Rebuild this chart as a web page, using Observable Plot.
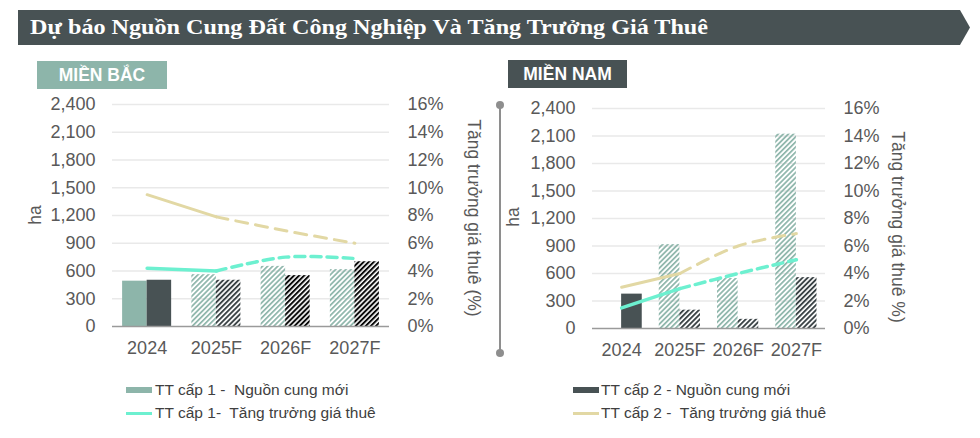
<!DOCTYPE html>
<html><head><meta charset="utf-8">
<script src="https://cdn.jsdelivr.net/npm/d3@7"></script>
<script src="https://cdn.jsdelivr.net/npm/@observablehq/plot@0.6"></script>
<style>
body{margin:0;background:#fff;font-family:"Liberation Sans",Arial,sans-serif;}
#root{position:relative;width:980px;height:438px;overflow:hidden;background:#fff;}
.abs{position:absolute;}
.tag{position:absolute;color:#fff;font-weight:bold;font-size:17.5px;line-height:28px;text-align:center;}
.ytitle{position:absolute;font-size:17.5px;color:#595959;white-space:nowrap;transform-origin:center center;}
.leg{position:absolute;font-size:15.5px;color:#404040;white-space:pre;line-height:18px;}
.sw{position:absolute;}
</style></head><body>
<svg width="0" height="0" style="position:absolute">
  <defs>
    <pattern id="h1" patternUnits="userSpaceOnUse" width="3.6" height="3.6" patternTransform="rotate(45)">
      <rect width="1.7" height="3.6" fill="#8db5aa"/>
    </pattern>
    <pattern id="h2" patternUnits="userSpaceOnUse" width="3.6" height="3.6" patternTransform="rotate(45)">
      <rect width="1.9" height="3.6" fill="#3a4245"/>
    </pattern>
    <pattern id="h2b" patternUnits="userSpaceOnUse" width="3.6" height="3.6" patternTransform="rotate(45)">
      <rect width="2" height="3.6" fill="#0a0a0a"/>
    </pattern>
  </defs>
</svg>
<div id="root">
  <svg class="abs" style="left:0;top:0" width="980" height="50">
    <polygon points="18,10 960,10 970,27.5 960,45 18,45" fill="#485254"/>
    <text x="30" y="34" fill="#fff" font-family="Liberation Serif, Times New Roman, serif" font-weight="bold" font-size="21" textLength="678" lengthAdjust="spacingAndGlyphs">Dự báo Nguồn Cung Đất Công Nghiệp Và Tăng Trưởng Giá Thuê</text>
  </svg>
  <div class="tag" style="left:37px;top:61px;width:130px;height:28px;background:#8db5aa;">MIỀN BẮC</div>
  <div class="tag" style="left:508px;top:60px;width:119px;height:28px;background:#485254;">MIỀN NAM</div>

  <div id="north" class="abs" style="left:20px;top:90px;"></div>
  <div id="south" class="abs" style="left:490px;top:90px;"></div>

  <div class="ytitle" style="left:35px;top:215px;transform:translate(-50%,-50%) rotate(-90deg);">ha</div>
  <div class="ytitle" style="left:473px;top:218px;transform:translate(-50%,-50%) rotate(90deg);">Tăng trưởng giá thuê (%)</div>
  <div class="ytitle" style="left:513px;top:217px;transform:translate(-50%,-50%) rotate(-90deg);">ha</div>
  <div class="ytitle" style="left:897px;top:227px;transform:translate(-50%,-50%) rotate(90deg);">Tăng trưởng giá thuê %)</div>

  <div class="abs" style="left:499px;top:105px;width:2px;height:248px;background:#8e8e8e;"></div>
  <div class="abs" style="left:496px;top:101px;width:8px;height:8px;border-radius:50%;background:#8e8e8e;"></div>
  <div class="abs" style="left:496px;top:349px;width:8px;height:8px;border-radius:50%;background:#8e8e8e;"></div>

  <div class="sw" style="left:126px;top:387px;width:26px;height:6px;background:#8db5aa;"></div>
  <div class="leg" style="left:155px;top:381px;">TT cấp 1 -  Nguồn cung mới</div>
  <div class="sw" style="left:126px;top:412px;width:26px;height:3px;background:#6df0d0;"></div>
  <div class="leg" style="left:155px;top:404px;">TT cấp 1-  Tăng trưởng giá thuê</div>
  <div class="sw" style="left:573px;top:387px;width:26px;height:6px;background:#485254;"></div>
  <div class="leg" style="left:601px;top:381px;">TT cấp 2 - Nguồn cung mới</div>
  <div class="sw" style="left:573px;top:412px;width:26px;height:3px;background:#e2d8a4;"></div>
  <div class="leg" style="left:601px;top:404px;">TT cấp 2 -  Tăng trưởng giá thuê</div>
</div>
<script>
const categories = ["2024", "2025F", "2026F", "2027F"];
const yTicks = [0, 300, 600, 900, 1200, 1500, 1800, 2100, 2400];
const pctTicks = [0, 2, 4, 6, 8, 10, 12, 14, 16];

// Miền Bắc
const northSupply1 = [490, 560, 650, 615];
const northSupply2 = [500, 500, 550, 700];
const northGrowth1 = [4.2, 4.0, 5.0, 4.9];
const northGrowth2 = [9.5, 7.9, 6.9, 6.0];

// Miền Nam
const southSupply1 = [0, 915, 545, 2120];
const southSupply2 = [375, 200, 100, 555];
const southGrowth1 = [1.5, 2.9, 4.0, 5.0];
const southGrowth2 = [3.0, 4.0, 6.0, 6.9];

const C1 = "#8db5aa", C2 = "#485254", TEAL = "#6df0d0", BEIGE = "#e2d8a4";

function panel(s1, s2, g1, g2, o) {
  const k = 2400 / 16;
  const rows = categories.map((c, i) => ({c, i, s1: s1[i], s2: s2[i], g1: g1[i], g2: g2[i], f: c.endsWith("F")}));
  const bw = 0.354;
  return Plot.plot({
    width: 470, height: 270,
    marginLeft: o.ml, marginRight: o.mr, marginTop: o.mt, marginBottom: o.mb,
    style: {fontFamily: "Liberation Sans, Arial, sans-serif", fontSize: "18px", color: "#595959", background: "transparent", overflow: "visible"},
    x: {domain: [-0.5, 3.5], label: null},
    y: {domain: [0, 2400], label: null},
    color: {type: "identity"},
    marks: [
      Plot.ruleY(yTicks.filter(t => t > 0), {stroke: "#e9e9e9", strokeWidth: 1.5}),
      Plot.rectY(rows.filter(d => d.s1 > 0), {x1: d => d.i - bw, x2: d => d.i, y: "s1", fill: d => d.f ? "url(#h1)" : C1}),
      Plot.rectY(rows.filter(d => d.s2 > 0), {x1: d => d.i, x2: d => d.i + bw, y: "s2", fill: d => d.f ? "url(#" + o.pat2[d.i] + ")" : C2}),
      Plot.ruleY([0], {stroke: "#9a9a9a", strokeWidth: 1.5}),
      Plot.line(rows.slice(0, 2), {x: "i", y: d => d.g2 * k, stroke: BEIGE, strokeWidth: 3}),
      Plot.line(rows.slice(1), {x: "i", y: d => d.g2 * k, stroke: BEIGE, strokeWidth: 3, curve: "catmull-rom", strokeDasharray: "12,8"}),
      Plot.line(rows.slice(0, 2), {x: "i", y: d => d.g1 * k, stroke: TEAL, strokeWidth: 3.5}),
      Plot.line(rows.slice(1), {x: "i", y: d => d.g1 * k, stroke: TEAL, strokeWidth: 3.5, curve: "catmull-rom", strokeDasharray: "10,6"}),
      Plot.axisX({ticks: [0, 1, 2, 3], tickFormat: i => categories[i], tickSize: 0, tickPadding: 15, label: null}),
      Plot.axisY({ticks: yTicks, tickFormat: d3.format(","), anchor: "left", tickSize: 0, tickPadding: 17, label: null}),
      Plot.axisY(pctTicks.map(p => p * k), {tickFormat: d => Math.round(d / k) + "%", anchor: "right", tickSize: 0, tickPadding: 18, label: null})
    ]
  });
}

document.getElementById("north").append(panel(northSupply1, northSupply2, northGrowth1, northGrowth2,
  {ml: 92, mr: 101, mt: 14, mb: 34, pat2: ["", "h2", "h2b", "h2b"]}));
document.getElementById("south").append(panel(southSupply1, southSupply2, southGrowth1, southGrowth2,
  {ml: 102, mr: 135, mt: 18, mb: 32, pat2: ["", "h2", "h2", "h2"]}));
</script>
</body></html>
